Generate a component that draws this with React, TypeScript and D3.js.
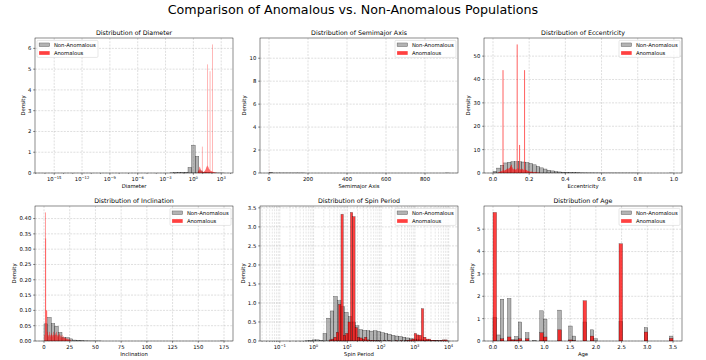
import React from "react";
import * as d3 from "d3";

const FONT = "'DejaVu Sans', sans-serif";

// ---------------- data ----------------
// Each histogram: bin range [lo, hi] (log10 units for log-scaled axes) and density per bin.

// Diameter (log10 bins)
const diameterNonRange = [-16.1, 3.3];
const diameterNon = [
  0, 0, 0, 0, 0, 0, 0, 0, 0, 0,
  0, 0, 0, 0, 0, 0, 0, 0, 0, 0,
  0, 0, 0, 0, 0, 0, 0, 0, 0, 0,
  0, 0, 0, 0, 0, 0.008, 0.012, 0.02, 0.025, 0.03,
  0.27, 1.34, 0.8, 0.1, 0.04, 0.02, 0.008, 0.004, 0.002, 0.001,
];
const diameterAnoRange = [0.48, 2.5];
const diameterAno = [
  0.05, 0.1, 0.15, 0.2, 0.28, 0.3, 0.22, 0.18, 0.12, 0.1,
  0.08, 1.27, 0.06, 0.05, 0.04, 0.05, 0.06, 0.08, 0.1, 0.12,
  0.15, 0.2, 0.25, 0.3, 0.32, 5.23, 0.35, 0.3, 0.25, 0.2,
  0.18, 0.15, 4.9, 0.12, 0.1, 0.1, 0.08, 0.08, 0.06, 6.19,
  0.06, 0.05, 0.04, 0.04, 0.03, 0.03, 0.02, 0.02, 0.01, 0.01,
];

// Semimajor axis
const semimajorNonRange = [0, 923];
const semimajorNon = [
  0.0535, 0.0003, 0.0001, 0.00005, 0.00003, 0.00002, 0.00002, 0.00001, 0.00001, 0.00001,
  0, 0, 0, 0, 0, 0, 0, 0, 0, 0,
  0, 0, 0, 0, 0, 0, 0, 0, 0, 0,
  0, 0, 0, 0, 0, 0, 0, 0, 0, 0,
  0, 0, 0, 0, 0, 0, 0, 0, 0, 0.00001,
];
const semimajorAnoRange = [2.1, 3.4];
const semimajorAno = [
  0.1, 0.2, 0.3, 0.5, 0.6, 0.8, 1.0, 1.2, 1.0, 0.9,
  1.1, 1.3, 1.5, 1.2, 1.0, 0.8, 0.9, 1.1, 11.2, 1.4,
  1.2, 1.0, 0.8, 0.7, 0.9, 1.0, 0.8, 0.6, 0.5, 0.4,
  0.5, 0.6, 0.7, 0.5, 0.4, 0.3, 0.3, 0.2, 0.2, 0.2,
  0.15, 0.1, 0.1, 0.1, 0.08, 0.05, 0.05, 0.03, 0.02, 0.02,
];

// Eccentricity
const eccentricityNonRange = [0, 0.995];
const eccentricityNon = [
  0.7, 2.1, 3.3, 4.3, 4.6, 4.8, 4.8, 4.8, 4.7, 4.5,
  4.1, 3.5, 2.8, 2.2, 1.7, 1.2, 0.9, 0.6, 0.45, 0.35,
  0.3, 0.25, 0.15, 0.1, 0.08, 0.06, 0.05, 0.04, 0.03, 0.02,
  0.015, 0.01, 0.01, 0.008, 0.005, 0.004, 0.003, 0.002, 0.002, 0.001,
  0.001, 0, 0, 0, 0, 0, 0, 0, 0, 0.001,
];
const eccentricityAnoRange = [0.03, 0.26];
const eccentricityAno = [
  0.4, 0.5, 0.6, 0.8, 1.0, 44, 1.2, 1.0, 1.3, 1.5,
  1.8, 2.0, 1.6, 2.2, 2.8, 3.5, 2.4, 1.8, 1.5, 1.8,
  1.4, 1.6, 55, 2.0, 1.5, 12, 1.6, 1.4, 1.8, 1.5,
  1.2, 44, 1.4, 1.3, 1.0, 0.9, 0.8, 0.6, 0.5, 0.6,
  0.5, 0.4, 0.3, 0.3, 0.5, 0.3, 0.2, 0.2, 0.15, 0.1,
];

// Inclination
const inclinationNonRange = [0, 175];
const inclinationNon = [
  0.056, 0.077, 0.057, 0.048, 0.028, 0.012, 0.011, 0.007, 0.003, 0.002,
  0.001, 0.0005, 0.0003, 0.0002, 0.0001, 0.0001, 0, 0, 0, 0,
  0, 0, 0, 0, 0, 0, 0, 0, 0, 0,
  0, 0, 0, 0, 0, 0, 0, 0, 0, 0,
  0, 0, 0, 0, 0, 0, 0, 0, 0, 0.0001,
];
const inclinationAnoRange = [0.5, 26];
const inclinationAno = [
  0.02, 0.42, 0.335, 0.1, 0.1, 0.03, 0.02, 0.015, 0.02, 0.03,
  0.02, 0.015, 0.02, 0.025, 0.02, 0.015, 0.02, 0.03, 0.02, 0.015,
  0.02, 0.025, 0.03, 0.02, 0.015, 0.02, 0.015, 0.02, 0.025, 0.02,
  0.015, 0.01, 0.015, 0.02, 0.01, 0.01, 0.015, 0.01, 0.01, 0.008,
  0.01, 0.008, 0.006, 0.008, 0.005, 0.006, 0.004, 0.005, 0.003, 0.004,
];

// Spin period (log10 bins)
const spinNonRange = [-1.32, 4.01];
const spinNon = [
  0, 0, 0, 0, 0, 0, 0, 0, 0, 0,
  0.005, 0.01, 0.03, 0.03, 0.02, 0.2, 0.6, 0.79, 1.17, 1.06,
  0.9, 0.75, 0.64, 0.5, 0.4, 0.3, 0.28, 0.27, 0.26, 0.27,
  0.25, 0.22, 0.2, 0.18, 0.15, 0.13, 0.12, 0.1, 0.08, 0.06,
  0.05, 0.04, 0.03, 0.02, 0.015, 0.01, 0.01, 0.005, 0.003, 0.002,
];
const spinAnoRange = [0.46, 3.96];
const spinAno = [
  0.03, 0.05, 0.1, 0.23, 0.96, 3.33, 0.15, 0.2, 0.5, 3.38,
  3.27, 0.35, 0.1, 0.08, 0.05, 0.1, 0.03, 0.02, 0.02, 0.01,
  0.01, 0.01, 0, 0.01, 0, 0.01, 0, 0, 0.01, 0,
  0.01, 0, 0.01, 0.02, 0.03, 0.05, 0.2, 0.16, 0.15, 0.85,
  0.1, 0.05, 0.05, 0.02, 0.02, 0.01, 0.01, 0.02, 0.03, 0.03,
];

// Age (shared bins)
const ageRange = [0, 3.5];
const ageNon = [
  1.05, 0.27, 1.87, 0, 1.9, 0.05, 0.2, 0.85, 0, 0.37,
  0, 0.02, 0, 1.35, 0.98, 0, 0, 0, 1.38, 0,
  0, 0.67, 0.22, 0, 0, 0.85, 0, 0.5, 0.1, 0,
  0, 0, 0, 0, 0, 0.87, 0, 0, 0, 0,
  0, 0, 0.6, 0, 0, 0, 0, 0, 0, 0.22,
];
const ageAno = [
  5.75, 0, 0.1, 0, 0.18, 0.05, 0.05, 0.1, 0, 0.1,
  0, 0, 0, 0.37, 0.18, 0, 0, 0, 0.5, 0,
  0, 0.05, 0.02, 0, 0, 1.8, 0, 0.22, 0, 0,
  0, 0, 0, 0, 0, 4.35, 0, 0, 0, 0,
  0, 0, 0.4, 0, 0, 0, 0, 0, 0, 0.12,
];

const legendLabels = ["Non-Anomalous", "Anomalous"];

// Tick values
const diameterXTicks = [-15, -12, -9, -6, -3, 0, 3];
const diameterYTicks = [0, 1, 2, 3, 4, 5, 6];
const semimajorXTicks = [0, 200, 400, 600, 800];
const semimajorYTicks = [0, 2, 4, 6, 8, 10];
const eccentricityXTicks = [0, 0.2, 0.4, 0.6, 0.8, 1.0];
const eccentricityYTicks = [0, 10, 20, 30, 40, 50];
const inclinationXTicks = [0, 25, 50, 75, 100, 125, 150, 175];
const inclinationYTicks = [0, 0.05, 0.1, 0.15, 0.2, 0.25, 0.3, 0.35, 0.4];
const spinXTicks = [-1, 0, 1, 2, 3, 4];
const spinYTicks = [0, 0.5, 1, 1.5, 2, 2.5, 3, 3.5];
const ageXTicks = [0, 0.5, 1, 1.5, 2, 2.5, 3, 3.5];
const ageYTicks = [0, 1, 2, 3, 4, 5];

type Series = { range: number[]; values: number[] };
type PanelCfg = {
  title: string;
  xLabel: string;
  log: boolean;
  non: Series;
  ano: Series;
  xTicks: number[];
  xFmt: (v: number) => string;
  yTicks: number[];
  yFmt: (v: number) => string;
  legend: "ul" | "ur";
  minorGrid: boolean;
};

const f0 = d3.format(".0f");
const f1 = d3.format(".1f");
const f2 = d3.format(".2f");

const panels: PanelCfg[] = [
  {
    title: "Distribution of Diameter", xLabel: "Diameter", log: true,
    non: { range: diameterNonRange, values: diameterNon },
    ano: { range: diameterAnoRange, values: diameterAno },
    xTicks: diameterXTicks, xFmt: f0, yTicks: diameterYTicks, yFmt: f0,
    legend: "ul", minorGrid: false,
  },
  {
    title: "Distribution of Semimajor Axis", xLabel: "Semimajor Axis", log: false,
    non: { range: semimajorNonRange, values: semimajorNon },
    ano: { range: semimajorAnoRange, values: semimajorAno },
    xTicks: semimajorXTicks, xFmt: f0, yTicks: semimajorYTicks, yFmt: f0,
    legend: "ur", minorGrid: false,
  },
  {
    title: "Distribution of Eccentricity", xLabel: "Eccentricity", log: false,
    non: { range: eccentricityNonRange, values: eccentricityNon },
    ano: { range: eccentricityAnoRange, values: eccentricityAno },
    xTicks: eccentricityXTicks, xFmt: f1, yTicks: eccentricityYTicks, yFmt: f0,
    legend: "ur", minorGrid: false,
  },
  {
    title: "Distribution of Inclination", xLabel: "Inclination", log: false,
    non: { range: inclinationNonRange, values: inclinationNon },
    ano: { range: inclinationAnoRange, values: inclinationAno },
    xTicks: inclinationXTicks, xFmt: f0, yTicks: inclinationYTicks, yFmt: f2,
    legend: "ur", minorGrid: false,
  },
  {
    title: "Distribution of Spin Period", xLabel: "Spin Period", log: true,
    non: { range: spinNonRange, values: spinNon },
    ano: { range: spinAnoRange, values: spinAno },
    xTicks: spinXTicks, xFmt: f0, yTicks: spinYTicks, yFmt: f1,
    legend: "ur", minorGrid: true,
  },
  {
    title: "Distribution of Age", xLabel: "Age", log: false,
    non: { range: ageRange, values: ageNon },
    ano: { range: ageRange, values: ageAno },
    xTicks: ageXTicks, xFmt: f1, yTicks: ageYTicks, yFmt: f0,
    legend: "ur", minorGrid: false,
  },
];

// ---------------- layout ----------------
const W = 706;
const H = 360;
const PW = 198;
const PH = 135;
const COLS = [35, 260, 484];
const ROWS = [38, 206];
const FS = 5.3; // tick / label / legend font size
const TITLE_FS = 6.3;
const SUPTITLE_FS = 12.7;
const TICK = 1.85;
const PAD = 1.85;

const NON_FILL = "#808080";
const ANO_FILL = "#ff0000";

function approxWidth(s: string, fs: number) {
  let w = 0;
  for (const ch of s) {
    if (ch === ".") w += 0.318;
    else if (ch === "-" || ch === "\u2212") w += 0.838;
    else w += 0.636;
  }
  return w * fs;
}

function Panel({ cfg, left, top }: { cfg: PanelCfg; left: number; top: number }) {
  const right = left + PW;
  const bottom = top + PH;
  const lo = Math.min(cfg.non.range[0], cfg.ano.range[0]);
  const hi = Math.max(cfg.non.range[1], cfg.ano.range[1]);
  const pad = (hi - lo) * 0.05;
  const toX = (v: number) => (cfg.log ? Math.pow(10, v) : v);

  const x: any = cfg.log
    ? d3.scaleLog().domain([toX(lo - pad), toX(hi + pad)]).range([left, right])
    : d3.scaleLinear().domain([lo - pad, hi + pad]).range([left, right]);
  const ymax = (d3.max([...cfg.non.values, ...cfg.ano.values]) as number) * 1.05;
  const y = d3.scaleLinear().domain([0, ymax]).range([bottom, top]);

  const clipId = `clip-${left}-${top}`;

  const bars = (s: Series, fill: string, fillOpacity: number, edgeOpacity: number, key: string) => {
    const n = s.values.length;
    const step = (s.range[1] - s.range[0]) / n;
    return s.values.map((v, i) => {
      if (v <= 0) return null;
      const x0 = x(toX(s.range[0] + i * step));
      const x1 = x(toX(s.range[0] + (i + 1) * step));
      const w = x1 - x0;
      const yt = y(v);
      return (
        <rect
          key={`${key}-${i}`}
          x={x0}
          y={yt}
          width={w}
          height={bottom - yt}
          fill={fill}
          fillOpacity={fillOpacity}
          stroke={w > 1.5 ? "#000" : "none"}
          strokeOpacity={edgeOpacity}
          strokeWidth={0.4}
        />
      );
    });
  };

  // grid + ticks positions
  const xMajor = cfg.xTicks.map((t) => x(toX(t)));
  const xMinor: number[] = [];
  if (cfg.log) {
    const dMin = lo - pad;
    const dMax = hi + pad;
    const majorSet = new Set(cfg.xTicks);
    const stepMajor = cfg.xTicks[1] - cfg.xTicks[0];
    for (let e = Math.floor(dMin) - 1; e <= Math.ceil(dMax); e++) {
      if (stepMajor > 1) {
        if (!majorSet.has(e) && e >= dMin && e <= dMax) xMinor.push(x(toX(e)));
      } else {
        for (let k = 2; k <= 9; k++) {
          const lv = e + Math.log10(k);
          if (lv >= dMin && lv <= dMax) xMinor.push(x(toX(lv)));
        }
      }
    }
  }

  const yLabelWidth = d3.max(cfg.yTicks.map((t) => approxWidth(cfg.yFmt(t), FS))) as number;
  const yLabelX = left - TICK - PAD - yLabelWidth - 2.1 - 1.2;

  // legend
  const legW = 61;
  const legH = 17;
  const legX = cfg.legend === "ul" ? left + 2 : right - 2 - legW;
  const legY = top + 2.4;

  const gridStyle = { stroke: "#b0b0b0", strokeWidth: 0.5, strokeDasharray: "2,1.2", strokeOpacity: 0.8 };

  return (
    <g>
      <defs>
        <clipPath id={clipId}>
          <rect x={left} y={top} width={PW} height={PH} />
        </clipPath>
      </defs>
      {/* grid */}
      <g>
        {cfg.minorGrid &&
          xMinor.map((px, i) => (
            <line key={`gm${i}`} x1={px} x2={px} y1={top} y2={bottom} {...gridStyle} strokeOpacity={0.6} />
          ))}
        {xMajor.map((px, i) => (
          <line key={`gx${i}`} x1={px} x2={px} y1={top} y2={bottom} {...gridStyle} />
        ))}
        {cfg.yTicks.map((t, i) => (
          <line key={`gy${i}`} x1={left} x2={right} y1={y(t)} y2={y(t)} {...gridStyle} />
        ))}
      </g>
      {/* bars */}
      <g clipPath={`url(#${clipId})`}>
        {bars(cfg.non, NON_FILL, 0.6, 0.65, "n")}
        {bars(cfg.ano, ANO_FILL, 0.75, 0.6, "a")}
      </g>
      {/* frame */}
      <rect x={left} y={top} width={PW} height={PH} fill="none" stroke="#000" strokeWidth={0.45} />
      {/* x ticks */}
      {xMajor.map((px, i) => (
        <g key={`xt${i}`}>
          <line x1={px} x2={px} y1={bottom} y2={bottom + TICK} stroke="#000" strokeWidth={0.45} />
          {cfg.log ? (
            <text x={px} y={bottom + 8} textAnchor="middle" fontSize={FS} fontFamily={FONT} fill="#000">
              10
              <tspan dy={-2.3} fontSize={FS * 0.7}>
                {cfg.xTicks[i] < 0 ? `\u2212${Math.abs(cfg.xTicks[i])}` : `${cfg.xTicks[i]}`}
              </tspan>
            </text>
          ) : (
            <text x={px} y={bottom + 7.8} textAnchor="middle" fontSize={FS} fontFamily={FONT} fill="#000">
              {cfg.xFmt(cfg.xTicks[i])}
            </text>
          )}
        </g>
      ))}
      {xMinor.map((px, i) => (
        <line key={`xm${i}`} x1={px} x2={px} y1={bottom} y2={bottom + 1.05} stroke="#000" strokeWidth={0.35} />
      ))}
      {/* y ticks */}
      {cfg.yTicks.map((t, i) => (
        <g key={`yt${i}`}>
          <line x1={left - TICK} x2={left} y1={y(t)} y2={y(t)} stroke="#000" strokeWidth={0.45} />
          <text
            x={left - TICK - PAD}
            y={y(t)}
            dy="0.36em"
            textAnchor="end"
            fontSize={FS}
            fontFamily={FONT}
            fill="#000"
          >
            {cfg.yFmt(t)}
          </text>
        </g>
      ))}
      {/* labels */}
      <text x={(left + right) / 2} y={top - 3.4} textAnchor="middle" fontSize={TITLE_FS} fontFamily={FONT} fill="#000">
        {cfg.title}
      </text>
      <text x={(left + right) / 2} y={bottom + 15} textAnchor="middle" fontSize={FS} fontFamily={FONT} fill="#000">
        {cfg.xLabel}
      </text>
      <text
        transform={`translate(${yLabelX},${(top + bottom) / 2}) rotate(-90)`}
        textAnchor="middle"
        fontSize={FS}
        fontFamily={FONT}
        fill="#000"
      >
        Density
      </text>
      {/* legend */}
      <g>
        <rect x={legX} y={legY} width={legW} height={legH} rx={1.2} fill="#fff" fillOpacity={0.8} stroke="#cccccc" strokeWidth={0.5} />
        {legendLabels.map((lab, i) => {
          const cy = legY + 4.4 + i * 8.2;
          return (
            <g key={lab}>
              <rect
                x={legX + 2.1}
                y={cy - 1.85}
                width={10.6}
                height={3.7}
                fill={i === 0 ? NON_FILL : ANO_FILL}
                fillOpacity={i === 0 ? 0.6 : 0.75}
                stroke={i === 0 ? "#000" : "none"}
                strokeOpacity={0.6}
                strokeWidth={0.4}
              />
              <text x={legX + 2.1 + 10.6 + 4.2} y={cy} dy="0.36em" fontSize={FS} fontFamily={FONT} fill="#000">
                {lab}
              </text>
            </g>
          );
        })}
      </g>
    </g>
  );
}

export default function App() {
  return (
    <div style={{ width: W, height: H }}>
      <style>{`body{margin:0;background:#fff}`}</style>
      <svg width={W} height={H} viewBox={`0 0 ${W} ${H}`} style={{ display: "block", background: "#fff" }}>
        <text x={W / 2} y={14} textAnchor="middle" fontSize={SUPTITLE_FS} fontFamily={FONT} fill="#000">
          Comparison of Anomalous vs. Non-Anomalous Populations
        </text>
        {panels.map((p, i) => (
          <Panel key={p.title} cfg={p} left={COLS[i % 3]} top={ROWS[Math.floor(i / 3)]} />
        ))}
      </svg>
    </div>
  );
}
